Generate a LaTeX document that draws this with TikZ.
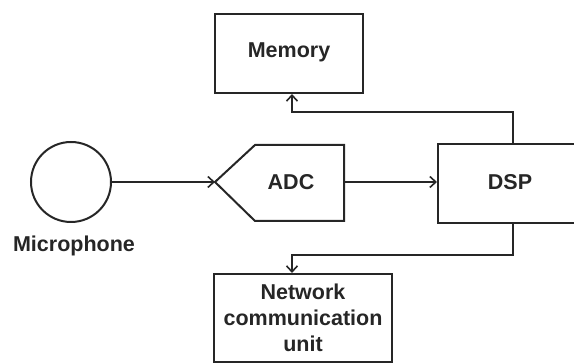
\documentclass[tikz,border=0pt]{standalone}
\usepackage{fontspec}
\setmainfont{Liberation Sans}
\usetikzlibrary{arrows.meta}
\begin{document}
\begin{tikzpicture}[x=1pt,y=1pt,
  box/.style={draw=black!85,line width=2pt,inner sep=0pt},
  lbl/.style={font=\bfseries\fontsize{21.5}{26}\selectfont,text=black!85},
  conn/.style={draw=black!85,line width=2pt,-{Straight Barb[length=6pt,width=11pt,line width=1.6pt]}}]
\useasboundingbox (0,0) rectangle (574,363);
\clip (0,0) rectangle (574,363);
% Memory
\node[box,minimum width=148pt,minimum height=79pt] (mem) at (289,309.5) {};
\node[lbl] (memt) at (289,311) {Memory};
% Microphone
\node[draw=black!85,line width=2pt,circle,minimum size=80pt,inner sep=0pt] (mic) at (71,181) {};
\node[lbl] (mict) at (74,117) {Microphone};
% ADC
\coordinate (adcL) at (215,181);
\draw[line width=2pt,draw=black!85,line join=miter] (adcL) -- (255,218) -- (344,218) -- (344,142) -- (255,142) -- cycle;
\node[lbl] (adct) at (291,181) {ADC};
% DSP
\node[box,minimum width=160pt,minimum height=79pt,anchor=west] (dsp) at (437,179.5) {};
\node[lbl] (dspt) at (510,181) {DSP};
% Network
\node[box,minimum width=178pt,minimum height=88pt] (net) at (303,45) {};
\node[lbl,align=center] (nett) at (303,45) {Network\\communication\\unit};
% connectors
\draw[conn] (mic.east) -- (adcL);
\draw[conn] (344,181) -- (dsp.west |- 0,181);
\coordinate (d1) at (513,219);
\coordinate (m1) at (513,251);
\coordinate (m2) at (292,251);
\draw[conn] (d1) -- (m1) -- (m2) -- (mem.south -| m2);
\coordinate (b0) at (513,140);
\coordinate (b1) at (513,108);
\coordinate (b2) at (292,108);
\draw[conn] (b0) -- (b1) -- (b2) -- (net.north -| b2);
\end{tikzpicture}
\end{document}
